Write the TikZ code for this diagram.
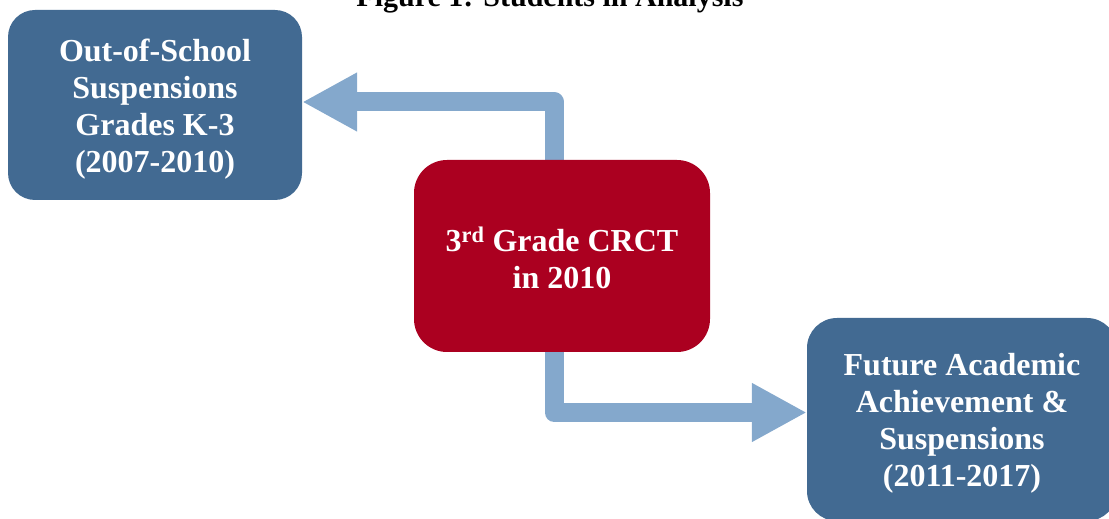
\documentclass[tikz,border=0pt]{standalone}
\usepackage{fontspec}
\setmainfont{Liberation Serif}
\usetikzlibrary{arrows.meta}
\pgfdeclarelayer{back}
\pgfsetlayers{back,main}
\definecolor{boxblue}{HTML}{426A92}
\definecolor{boxred}{HTML}{AB0020}
\definecolor{arrowblue}{HTML}{84A8CC}
\newcommand{\lift}[1]{\rule{0pt}{#1}}
\tikzset{
  box/.style={rounded corners=#1, inner sep=0pt, align=center, text=white,
    font=\fontsize{32}{37}\selectfont\bfseries},
  flow/.style={draw=arrowblue, line width=19pt, line join=round,
    -{Triangle[length=55pt,width=55pt]}}
}
\begin{document}
\begin{tikzpicture}[x=1pt,y=1pt]
\useasboundingbox (0,0) rectangle (1109,519);
\clip (0,0) rectangle (1109,519);
\node[box=27pt, fill=boxblue, minimum width=294pt, minimum height=190pt] (oss) at (155,414)
  {\lift{30pt}Out-of-School\\Suspensions\\Grades K-3\\(2007-2010)};
\node[box=33pt, fill=boxred, minimum width=296pt, minimum height=192pt] (crct) at (562,263)
  {\lift{28pt}3\textsuperscript{rd} Grade CRCT\\in 2010};
\node[box=30pt, fill=boxblue, minimum width=310pt, minimum height=203pt] (fut) at (962,99.5)
  {\lift{30pt}Future Academic\\Achievement \&\\Suspensions\\(2011-2017)};
\node[anchor=base, font=\fontsize{30}{34}\selectfont\bfseries] (title) at (550,512)
  {Figure 1: Students in Analysis};
\begin{pgfonlayer}{back}
\draw[flow] ([xshift=-7.5pt]crct.north) |- ([yshift=3pt]oss.east);
\draw[flow] ([xshift=-8pt]crct.south) |- ([yshift=7pt]fut.west);
\end{pgfonlayer}
\end{tikzpicture}
\end{document}
